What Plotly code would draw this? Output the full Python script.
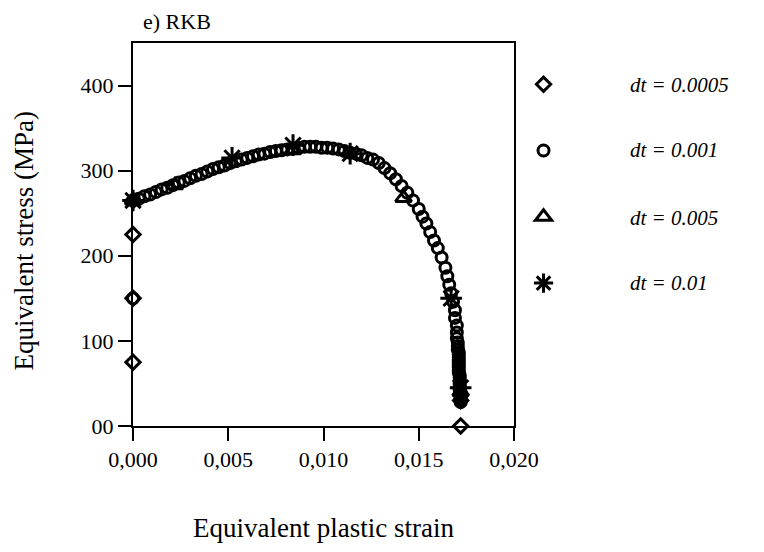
import plotly.graph_objects as go

# ---- data -------------------------------------------------------------
# dt = 0.0005 (diamonds)
dia_x = [0.0, 0.0, 0.0, 0.0, 0.0172, 0.0172]
dia_y = [75, 150, 225, 265, 30, 0]

# dt = 0.001 (circles)
circ_x = [0.0, 0.0,
          0.0003, 0.0006, 0.0009, 0.0012, 0.0015, 0.0018, 0.0021, 0.0024,
          0.0027, 0.0030, 0.0033, 0.0036, 0.0039, 0.0042, 0.0045, 0.0048,
          0.0051, 0.0054, 0.0057, 0.0060, 0.0063, 0.0066, 0.0069, 0.0072,
          0.0075, 0.0078, 0.0081, 0.0084, 0.0087, 0.0090, 0.0093, 0.0096,
          0.0099, 0.0102, 0.0105, 0.0108, 0.0111, 0.0114, 0.0117, 0.0120,
          0.0123, 0.0126, 0.0129, 0.0132, 0.0135, 0.0138, 0.0141, 0.0144,
          0.0147, 0.0150, 0.0152, 0.0154, 0.0156, 0.0158, 0.0160, 0.0162,
          0.0164, 0.0165, 0.0166, 0.0167, 0.0168, 0.0169, 0.0169, 0.0170,
          0.0170, 0.0170, 0.01705, 0.01705, 0.01705, 0.0171, 0.0171, 0.0171,
          0.0171, 0.0171, 0.0171, 0.0171, 0.0171, 0.0171, 0.01715, 0.01715,
          0.01715, 0.01715, 0.01715, 0.01715, 0.01715, 0.01715, 0.0172,
          0.0172, 0.0172, 0.0172, 0.0172, 0.0172, 0.0172, 0.0172, 0.0172,
          0.0172, 0.0172, 0.0172]
circ_y = [150, 265,
          267, 270, 272, 275, 278, 280, 283, 286,
          288, 291, 294, 296, 299, 302, 304, 306,
          309, 311, 313, 315, 317, 319, 320, 322,
          323, 324, 325, 326, 327, 328, 328, 328,
          327, 327, 326, 325, 323, 321, 320, 318,
          315, 313, 309, 303, 297, 290, 282, 274,
          265, 255, 246, 238, 228, 218, 209, 198,
          186, 176, 166, 156, 146, 136, 127, 118,
          110, 103, 98, 94, 90, 87, 84, 81,
          78, 75, 72, 69, 66, 63, 60, 57,
          54, 51, 48, 46, 44, 42, 40,
          38, 37, 36, 35, 34, 33, 32, 31,
          30, 29, 28]

# dt = 0.005 (triangles)
tri_x = [0.0, 0.0022, 0.0084, 0.0142, 0.0172]
tri_y = [265, 283, 324, 268, 40]

# dt = 0.01 (asterisks)
star_x = [0.0, 0.0052, 0.0084, 0.0114, 0.0167, 0.0172]
star_y = [265, 315, 330, 320, 150, 45]

series_names = ["dt = 0.0005", "dt = 0.001", "dt = 0.005", "dt = 0.01"]
series_symbols = ["diamond-open", "circle-open", "triangle-up-open", "asterisk-open"]
series_sizes = [11, 11, 14, 18]

x_ticks = [0.0, 0.005, 0.010, 0.015, 0.020]
x_ticktext = ["0,000", "0,005", "0,010", "0,015", "0,020"]
y_ticks = [0, 100, 200, 300, 400]
y_ticktext = ["00", "100", "200", "300", "400"]

FONT = "Liberation Serif"

# legend keys come from the plotly legend; their labels are set as
# left-aligned annotations in the column to the right of the keys
LABEL_X = 1.299
LABEL_Y = [0.890, 0.7206, 0.543, 0.3734]

fig = go.Figure()
for i, (xs, ys) in enumerate([(dia_x, dia_y), (circ_x, circ_y),
                              (tri_x, tri_y), (star_x, star_y)]):
    fig.add_trace(go.Scatter(
        x=xs, y=ys, mode="markers", name="",
        legendgroup=series_names[i], cliponaxis=False,
        hovertemplate=series_names[i] + "<br>%{x}, %{y}<extra></extra>",
        marker=dict(symbol=series_symbols[i], size=series_sizes[i],
                    color="black", line=dict(color="black", width=3)),
    ))

axis_common = dict(showgrid=False, zeroline=False, showline=True,
                   linecolor="black", linewidth=2, mirror=True,
                   ticks="outside", ticklen=13, tickwidth=2, tickcolor="black",
                   tickfont=dict(family=FONT, size=22, color="black"))

fig.update_xaxes(range=[0, 0.020], tickvals=x_ticks, ticktext=x_ticktext,
                 **axis_common)
fig.update_yaxes(range=[0, 450], tickvals=y_ticks, ticktext=y_ticktext,
                 **axis_common)

annotations = [
    dict(text="e) RKB", x=0.021, y=1.055, xref="paper", yref="paper",
         xanchor="left", yanchor="middle", showarrow=False,
         font=dict(family=FONT, size=22)),
    dict(text="Equivalent stress (MPa)", x=-0.285, y=0.483,
         xref="paper", yref="paper", textangle=-90,
         xanchor="center", yanchor="middle", showarrow=False,
         font=dict(family=FONT, size=27)),
    dict(text="Equivalent plastic strain", x=0.5, y=-0.266,
         xref="paper", yref="paper", xanchor="center", yanchor="middle",
         showarrow=False, font=dict(family=FONT, size=27)),
]
for name, ly in zip(series_names, LABEL_Y):
    annotations.append(dict(
        text=name, x=LABEL_X, y=ly, xref="paper", yref="paper",
        xanchor="left", yanchor="middle", showarrow=False,
        font=dict(family=FONT, size=21, style="italic", color="black")))

fig.update_layout(
    width=764, height=552, autosize=False,
    margin=dict(l=133, r=250, t=43, b=126, pad=0),
    plot_bgcolor="white", paper_bgcolor="white",
    font=dict(family=FONT, color="black"),
    showlegend=True,
    legend=dict(x=1.025, y=0.945, xanchor="left", yanchor="top",
                itemwidth=30, tracegroupgap=36, bgcolor="rgba(0,0,0,0)",
                font=dict(family=FONT, size=21, style="italic", color="black")),
    annotations=annotations,
)

fig.write_html("out.html")
